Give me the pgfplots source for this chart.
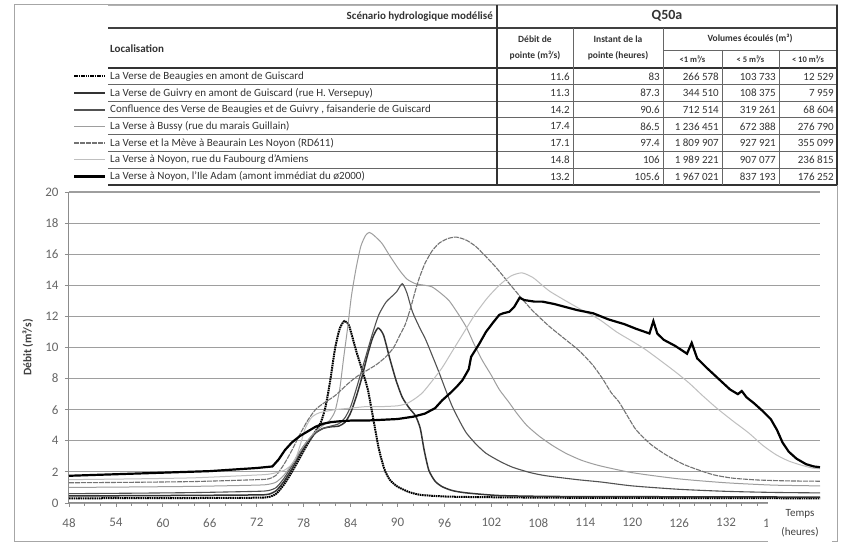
\documentclass[border=0pt]{standalone}
\usepackage{pgfplots}
\pgfplotsset{compat=1.18}
\usepackage{fontspec}
\setmainfont{Carlito}
\tikzset{
  sA/.style={black, line width=2pt, dash pattern=on 1.6pt off 0.7pt},
  sB/.style={black!80, line width=1.5pt},
  sC/.style={black!68, line width=1.1pt},
  sD/.style={black!38, line width=1pt},
  sE/.style={black!55, line width=1.1pt, dash pattern=on 5pt off 1pt},
  sF/.style={black!25, line width=1pt},
  sG/.style={black, line width=2.2pt},
  tb/.style={font=\fontsize{11}{12}\selectfont, text=black!80, inner sep=0pt},
  th/.style={font=\bfseries\fontsize{11}{12}\selectfont, text=black!80, inner sep=0pt, align=center},
}
\begin{document}
\begin{tikzpicture}[x=1pt,y=1pt]
\useasboundingbox (0,0) rectangle (846,548);
\fill[white] (0,0) rectangle (846,548);
\draw[black!35, line width=1pt] (14,6) rectangle (837,543);
\begin{axis}[
  at={(69pt,45pt)}, anchor=south west,
  scale only axis, width=751pt, height=311pt,
  xmin=48, xmax=144, ymin=0, ymax=20,
  axis x line*=bottom, axis y line*=left,
  axis line style={black!45, line width=1pt},
  xtick={48,54,...,138}, ytick={0,2,...,20},
  minor x tick num=2,
  tick align=outside,
  major tick length=4pt, minor tick length=3pt,
  tick style={black!45, line width=0.8pt},
  ymajorgrids, major grid style={black!38, line width=1.1pt},
  ticklabel style={font=\fontsize{13}{15}\selectfont, text=black!60},
  xticklabel style={yshift=-8pt},
  yticklabel style={xshift=-3pt},
  /pgf/number format/assume math mode=true,
  ylabel={\textbf{Débit (m³/s)}},
  ylabel style={font=\fontsize{11.5}{13}\selectfont, text=black!75, at={(axis description cs:-0.055,0.5)}, anchor=center},
  clip=false,
]
\addplot[sA, smooth, tension=0.4] coordinates {(48,0.30)(56,0.31)(64,0.32)(72,0.34)(73.5,0.38)(74.5,0.6)(75.5,1.2)(76.5,2.0)(77.5,2.9)(78.5,3.8)(79.5,4.6)(80.2,5.2)(80.8,6.2)(81.4,7.9)(82,9.9)(82.6,11.2)(83.2,11.7)(83.8,11.4)(84.7,9.8)(85.5,8.5)(86.2,7.3)(86.9,5.4)(87.6,3.5)(88.3,2.2)(89,1.5)(90,1.05)(91.5,0.7)(93,0.52)(96,0.42)(100,0.38)(110,0.34)(125,0.32)(144,0.3)};
\addplot[sB, smooth, tension=0.4] coordinates {(48,0.45)(56,0.47)(64,0.49)(72,0.52)(73.5,0.56)(74.5,0.8)(75.5,1.4)(76.5,2.2)(77.5,3.1)(78.5,3.9)(79.5,4.5)(80.5,4.8)(81.5,4.9)(82.5,4.95)(83.3,5.2)(84,5.8)(84.7,6.8)(85.4,8.0)(86.1,9.4)(86.8,10.6)(87.5,11.25)(88.2,10.8)(89,9.3)(89.8,7.9)(90.6,6.8)(91.5,6.1)(92.3,5.6)(92.9,4.8)(93.4,3.4)(94,2.1)(94.8,1.4)(95.7,1.05)(97,0.8)(98.8,0.65)(103,0.48)(110,0.42)(125,0.4)(144,0.38)};
\addplot[sC, smooth, tension=0.4] coordinates {(48,0.6)(56,0.63)(64,0.67)(72,0.75)(73.5,0.8)(74.5,1.0)(75.5,1.6)(76.5,2.4)(77.5,3.3)(78.5,4.0)(79.5,4.5)(80.5,4.8)(81.5,4.95)(82.5,5.1)(83.3,5.5)(84,6.2)(84.7,7.3)(85.4,8.5)(86.1,9.7)(86.8,10.9)(87.6,12.1)(88.5,12.9)(89.3,13.3)(89.9,13.6)(90.6,14.1)(91.2,13.5)(91.9,12.3)(92.8,11.3)(93.6,10.5)(94.5,9.4)(95.3,8.4)(96.2,7.2)(97,6.2)(98,5.2)(98.8,4.5)(100,3.8)(101.3,3.2)(103,2.7)(104.7,2.3)(107,1.95)(109,1.75)(113,1.5)(116,1.35)(120,1.1)(126,0.88)(132,0.75)(138,0.68)(144,0.65)};
\addplot[sD, smooth, tension=0.4] coordinates {(48,1.0)(56,1.03)(64,1.07)(72,1.15)(73.5,1.2)(74.5,1.35)(75.5,1.8)(76.5,2.5)(77.5,3.3)(78.5,4.0)(79.5,4.6)(80.5,5.0)(81.3,5.3)(82,5.9)(82.6,7.3)(83.1,9.3)(83.6,11.2)(84.1,13.3)(84.7,15.1)(85.3,16.5)(85.9,17.2)(86.4,17.4)(87,17.2)(88,16.7)(89,15.9)(90.2,15.0)(91.2,14.4)(92.3,14.1)(93.5,14.0)(94.4,13.9)(95.5,13.5)(96.6,13.0)(97.7,12.2)(98.8,11.3)(99.8,10.2)(100.8,9.2)(102,8.2)(103,7.3)(104.2,6.5)(105.2,5.8)(106.5,5.0)(108.1,4.3)(109.8,3.7)(111.5,3.2)(113.5,2.75)(115.8,2.4)(120,1.95)(126,1.55)(132,1.3)(138,1.15)(144,1.1)};
\addplot[sE, smooth, tension=0.4] coordinates {(48,1.3)(56,1.33)(64,1.38)(72,1.5)(73.5,1.55)(74.5,1.8)(75.5,2.5)(76.5,3.4)(77.5,4.4)(78.5,5.3)(79.5,6.0)(80.5,6.4)(82,6.9)(83.5,7.6)(84.7,8.1)(86,8.5)(87.3,8.9)(88.5,9.4)(89.5,10.0)(90.3,10.8)(91,11.5)(91.7,12.6)(92.3,13.7)(92.8,14.5)(93.5,15.4)(94.4,16.2)(95.3,16.7)(96.4,17.0)(97.5,17.1)(98.8,16.9)(100,16.5)(100.8,16.1)(102.5,15.2)(104.3,14.1)(105.8,13.2)(107.2,12.4)(109.3,11.4)(111.5,10.5)(113.2,9.8)(114.9,8.9)(116.2,8.0)(117.3,7.1)(118.3,6.5)(119.5,5.5)(120.5,4.7)(122.3,3.8)(124.3,3.1)(126.5,2.5)(128.6,2.1)(130.5,1.8)(132.8,1.6)(136,1.48)(140,1.42)(144,1.4)};
\addplot[sF, smooth, tension=0.4] coordinates {(48,1.5)(56,1.55)(64,1.62)(72,1.8)(73.5,1.85)(74.5,1.95)(75.5,2.1)(76.3,2.4)(77,2.9)(77.6,3.8)(78.2,4.8)(79,5.5)(80,5.8)(82,6.0)(84,6.1)(86,6.2)(88,6.2)(90,6.25)(91.2,6.4)(92.2,6.7)(93.2,7.1)(94.5,7.9)(95.7,8.7)(96.8,9.6)(97.9,10.5)(99,11.4)(100,12.2)(101.5,13.2)(103,14.0)(104.5,14.6)(105.9,14.8)(107.3,14.5)(108.5,14.0)(109.5,13.6)(111.5,13.0)(113.6,12.4)(115.8,11.8)(118,11.0)(120,10.4)(121.6,9.9)(123.5,9.2)(125.6,8.4)(127.3,7.7)(129,6.9)(130.8,6.1)(132.8,5.3)(134.9,4.5)(136.7,3.7)(138.4,3.1)(140,2.7)(141.5,2.45)(143,2.25)(144,2.2)};
\addplot[sG] coordinates {(48,1.75)(54,1.85)(60,1.95)(66,2.05)(72,2.25)(74,2.35)(74.8,2.8)(75.6,3.4)(76.5,3.9)(77.5,4.3)(78.5,4.6)(79.5,4.9)(80.5,5.1)(81.5,5.2)(82.5,5.25)(84,5.3)(86,5.3)(88,5.35)(90,5.4)(92,5.55)(93.5,5.75)(94.8,6.1)(95.7,6.6)(96.8,7.1)(97.6,7.5)(98.3,7.9)(99.1,8.6)(99.4,9.4)(100.4,10.2)(101.3,11.0)(102.2,11.6)(103,12.1)(103.5,12.2)(104.3,12.3)(104.9,12.6)(105.6,13.2)(106.2,13.05)(107.5,12.95)(108.5,12.95)(110,12.8)(111.5,12.6)(113,12.4)(115,12.2)(117,11.8)(119,11.5)(120.5,11.2)(122.2,10.9)(122.7,11.7)(123.2,10.9)(124,10.5)(125.5,10.1)(127,9.6)(127.6,10.3)(128.3,9.3)(129.5,8.7)(131,8.0)(132.5,7.3)(133.5,7.0)(134,7.2)(134.6,6.8)(135.6,6.4)(136.7,5.9)(137.7,5.4)(138.5,4.7)(139.2,3.9)(140,3.3)(141,2.85)(142.2,2.5)(143.2,2.35)(144,2.3)};
\end{axis}
% x axis title covering the last tick label
\node[fill=white, inner sep=1pt, align=center, font=\fontsize{11}{19}\selectfont, text=black!75, minimum width=64pt, minimum height=42pt] at (800,25) {Temps\\(heures)};
% ---- table ----
\draw[black!30, line width=0.8pt] (108,543) -- (837,543);
\draw[black!75, line width=1.2pt] (108,520) -- (837,520);
\draw[black!60, line width=0.8pt] (663,498) -- (837,498);
\draw[black!80, line width=2pt] (108,480) -- (837,480);
\foreach \y in {463,446.5,430,413,396.5,379.5} \draw[black!60, line width=1pt] (108,\y) -- (837,\y);
\draw[black!80, line width=1.8pt] (108,363) -- (837,363);
\draw[black!80, line width=1.6pt] (497,543) -- (497,363);
\draw[black!80, line width=2pt] (837,543) -- (837,363);
\draw[black!60, line width=0.8pt] (573,520) -- (573,363);
\draw[black!60, line width=0.8pt] (663,520) -- (663,363);
\draw[black!60, line width=0.8pt] (722,498) -- (722,363);
\draw[black!60, line width=0.8pt] (779,498) -- (779,363);
% headers
\node[th, anchor=east] at (493,531) {Scénario hydrologique modélisé};
\node[th, font=\bfseries\fontsize{14}{16}\selectfont] at (667,532) {Q50a};
\node[th, anchor=west] at (110,499) {Localisation};
\node[th, font=\bfseries\fontsize{9.5}{16.5}\selectfont] at (535,500) {Débit de\\pointe (m³/s)};
\node[th, font=\bfseries\fontsize{9.5}{16.5}\selectfont] at (618,500) {Instant de la\\pointe (heures)};
\node[th, font=\bfseries\fontsize{9.5}{11}\selectfont] at (750,509) {Volumes écoulés (m³)};
\node[th, font=\bfseries\fontsize{8.5}{10}\selectfont] at (692.5,489) {<1 m³/s};
\node[th, font=\bfseries\fontsize{8.5}{10}\selectfont] at (750.5,489) {< 5 m³/s};
\node[th, font=\bfseries\fontsize{8.5}{10}\selectfont] at (808,489) {< 10 m³/s};
% legend samples
\draw[sA] (74,471.5) -- (105,471.5);
\draw[sB] (74,455) -- (105,455);
\draw[sC] (74,438) -- (105,438);
\draw[sD] (74,421.5) -- (105,421.5);
\draw[sE] (74,405) -- (105,405);
\draw[sF] (74,388) -- (105,388);
\draw[sG] (74,371.5) -- (105,371.5);
% rows
\foreach \yy/\name/\q/\t/\va/\vb/\vc in {
 471.5/La Verse de Beaugies en amont de Guiscard/11.6/83/266 578/103 733/12 529,
 455/La Verse de Guivry en amont de Guiscard (rue H. Versepuy)/11.3/87.3/344 510/108 375/7 959,
 438/Confluence des Verse de Beaugies et de Guivry {,} faisanderie de Guiscard/14.2/90.6/712 514/319 261/68 604,
 421.5/La Verse à Bussy (rue du marais Guillain)/17.4/86.5/1 236 451/672 388/276 790,
 405/La Verse et la Mève à Beaurain Les Noyon (RD611)/17.1/97.4/1 809 907/927 921/355 099,
 388/La Verse à Noyon{,} rue du Faubourg d'Amiens/14.8/106/1 989 221/907 077/236 815,
 371.5/La Verse à Noyon{,} l'Ile Adam (amont immédiat du ø2000)/13.2/105.6/1 967 021/837 193/176 252}{
  \node[tb, anchor=west] at (110,\yy) {\name};
  \node[tb, anchor=east] at (570,\yy) {\q};
  \node[tb, anchor=east] at (660,\yy) {\t};
  \node[tb, anchor=east] at (719,\yy) {\va};
  \node[tb, anchor=east] at (776,\yy) {\vb};
  \node[tb, anchor=east] at (834,\yy) {\vc};
}
\end{tikzpicture}
\end{document}
